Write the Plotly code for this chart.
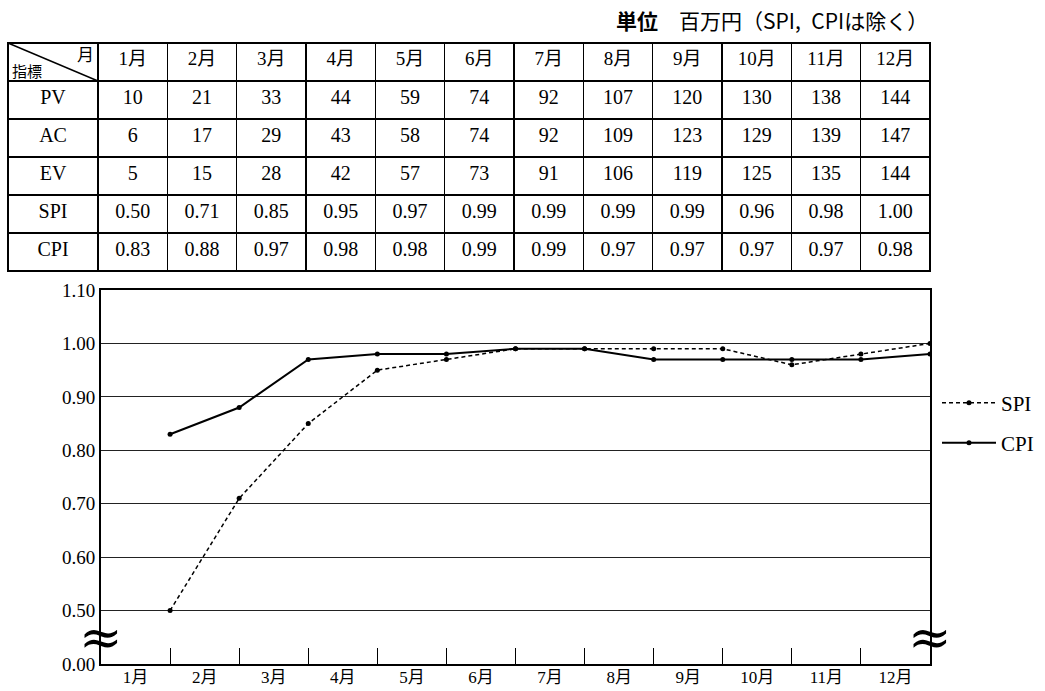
import plotly.graph_objects as go

months = ["1月", "2月", "3月", "4月", "5月", "6月", "7月", "8月", "9月", "10月", "11月", "12月"]
row_labels = ["PV", "AC", "EV", "SPI", "CPI"]
pv = [10, 21, 33, 44, 59, 74, 92, 107, 120, 130, 138, 144]
ac = [6, 17, 29, 43, 58, 74, 92, 109, 123, 129, 139, 147]
ev = [5, 15, 28, 42, 57, 73, 91, 106, 119, 125, 135, 144]
spi = [0.50, 0.71, 0.85, 0.95, 0.97, 0.99, 0.99, 0.99, 0.99, 0.96, 0.98, 1.00]
cpi = [0.83, 0.88, 0.97, 0.98, 0.98, 0.99, 0.99, 0.97, 0.97, 0.97, 0.97, 0.98]
y_ticks = [0.4, 0.5, 0.6, 0.7, 0.8, 0.9, 1.0, 1.1]
y_ticktext = ["0.00", "0.50", "0.60", "0.70", "0.80", "0.90", "1.00", "1.10"]

FW, FH = 1045, 691
ML, MT = 8, 43
MR = FW - 930
MB = FH - 664
PW = FW - ML - MR
PH = FH - MT - MB

def px(x):  # page x -> paper fraction
    return (x - ML) / PW

def py(y):  # page y -> paper fraction
    return (FH - MB - y) / PH

SERIF = "Liberation Serif, Noto Sans CJK JP"
CJK = "Noto Sans CJK JP"

fig = go.Figure()

cols = [row_labels]
for i in range(12):
    cols.append([str(pv[i]), str(ac[i]), str(ev[i]), f"{spi[i]:.2f}", f"{cpi[i]:.2f}"])

fig.add_trace(go.Table(
    domain=dict(x=[0, 1], y=[py(276), 1]),
    columnwidth=[90] + [69.3] * 12,
    header=dict(values=[""] + months, height=38, align="center",
                line=dict(color="black", width=1.4), fill=dict(color="white"),
                font=dict(family=SERIF, size=19, color="black")),
    cells=dict(values=cols, height=38, align="center",
               line=dict(color="black", width=1.4), fill=dict(color="white"),
               font=dict(family=SERIF, size=20, color="black")),
))

xs = list(range(1, 13))
fig.add_trace(go.Scatter(x=xs, y=spi, mode="lines+markers", name="SPI",
                         line=dict(color="black", width=1.5, dash="4px,3px"),
                         marker=dict(color="black", size=5), legend="legend"))
fig.add_trace(go.Scatter(x=xs, y=cpi, mode="lines+markers", name="CPI",
                         line=dict(color="black", width=2),
                         marker=dict(color="black", size=5), legend="legend2"))

fig.update_layout(
    width=FW, height=FH,
    margin=dict(l=ML, r=MR, t=MT, b=MB, pad=0, autoexpand=False),
    paper_bgcolor="white", plot_bgcolor="white",
    font=dict(family=SERIF, color="black", size=18),
    xaxis=dict(domain=[px(101), 1], range=[0, 12], automargin=False,
               tickvals=[i + 0.5 for i in range(12)], ticktext=months,
               ticks="", showgrid=False, zeroline=False,
               showline=True, linecolor="black", linewidth=2, mirror=True,
               tickfont=dict(family=SERIF, size=17), ticklabelstandoff=-3,
               minor=dict(tickvals=list(range(1, 12)), ticks="inside", ticklen=16,
                          tickcolor="black", tickwidth=1, showgrid=False)),
    yaxis=dict(domain=[0, py(290)], range=[0.4, 1.1], automargin=False,
               tickvals=y_ticks, ticktext=y_ticktext, ticks="",
               showgrid=True, gridcolor="#222", gridwidth=1, zeroline=False,
               showline=True, linecolor="black", linewidth=2, mirror=True,
               tickfont=dict(family=SERIF, size=19)),
    legend=dict(x=px(937), y=py(403), xanchor="left", yanchor="middle", itemwidth=54,
                font=dict(family=SERIF, size=21), bgcolor="rgba(0,0,0,0)"),
    legend2=dict(x=px(937), y=py(443), xanchor="left", yanchor="middle", itemwidth=54,
                 font=dict(family=SERIF, size=21), bgcolor="rgba(0,0,0,0)"),
    showlegend=True,
)

# diagonal in header corner
fig.add_shape(type="line", xref="paper", yref="paper",
              x0=px(8), y0=py(43), x1=px(98), y1=py(81),
              line=dict(color="black", width=1.4))
fig.add_annotation(text="指標", xref="paper", yref="paper", x=px(10), y=py(71),
                   xanchor="left", yanchor="middle", showarrow=False,
                   font=dict(family=CJK, size=15))
fig.add_annotation(text="月", xref="paper", yref="paper", x=px(96), y=py(54),
                   xanchor="right", yanchor="middle", showarrow=False,
                   font=dict(family=CJK, size=17))
# unit note
fig.add_annotation(text="<b>単位</b>　百万円（SPI,\u2002CPIは除く）", xref="paper", yref="paper",
                   x=px(930), y=py(20), xanchor="right", yanchor="middle", showarrow=False,
                   font=dict(family=CJK, size=21))
# axis break marks
for xb in [px(101), 1]:
    fig.add_annotation(text="≈", xref="paper", yref="y", x=xb, y=0.45,
                       xanchor="center", yanchor="middle", showarrow=False,
                       font=dict(family="DejaVu Serif", size=52))

fig.write_html("out.html", config={"displayModeBar": False},
               post_script="document.body.style.margin='0';document.body.style.overflow='hidden';")
